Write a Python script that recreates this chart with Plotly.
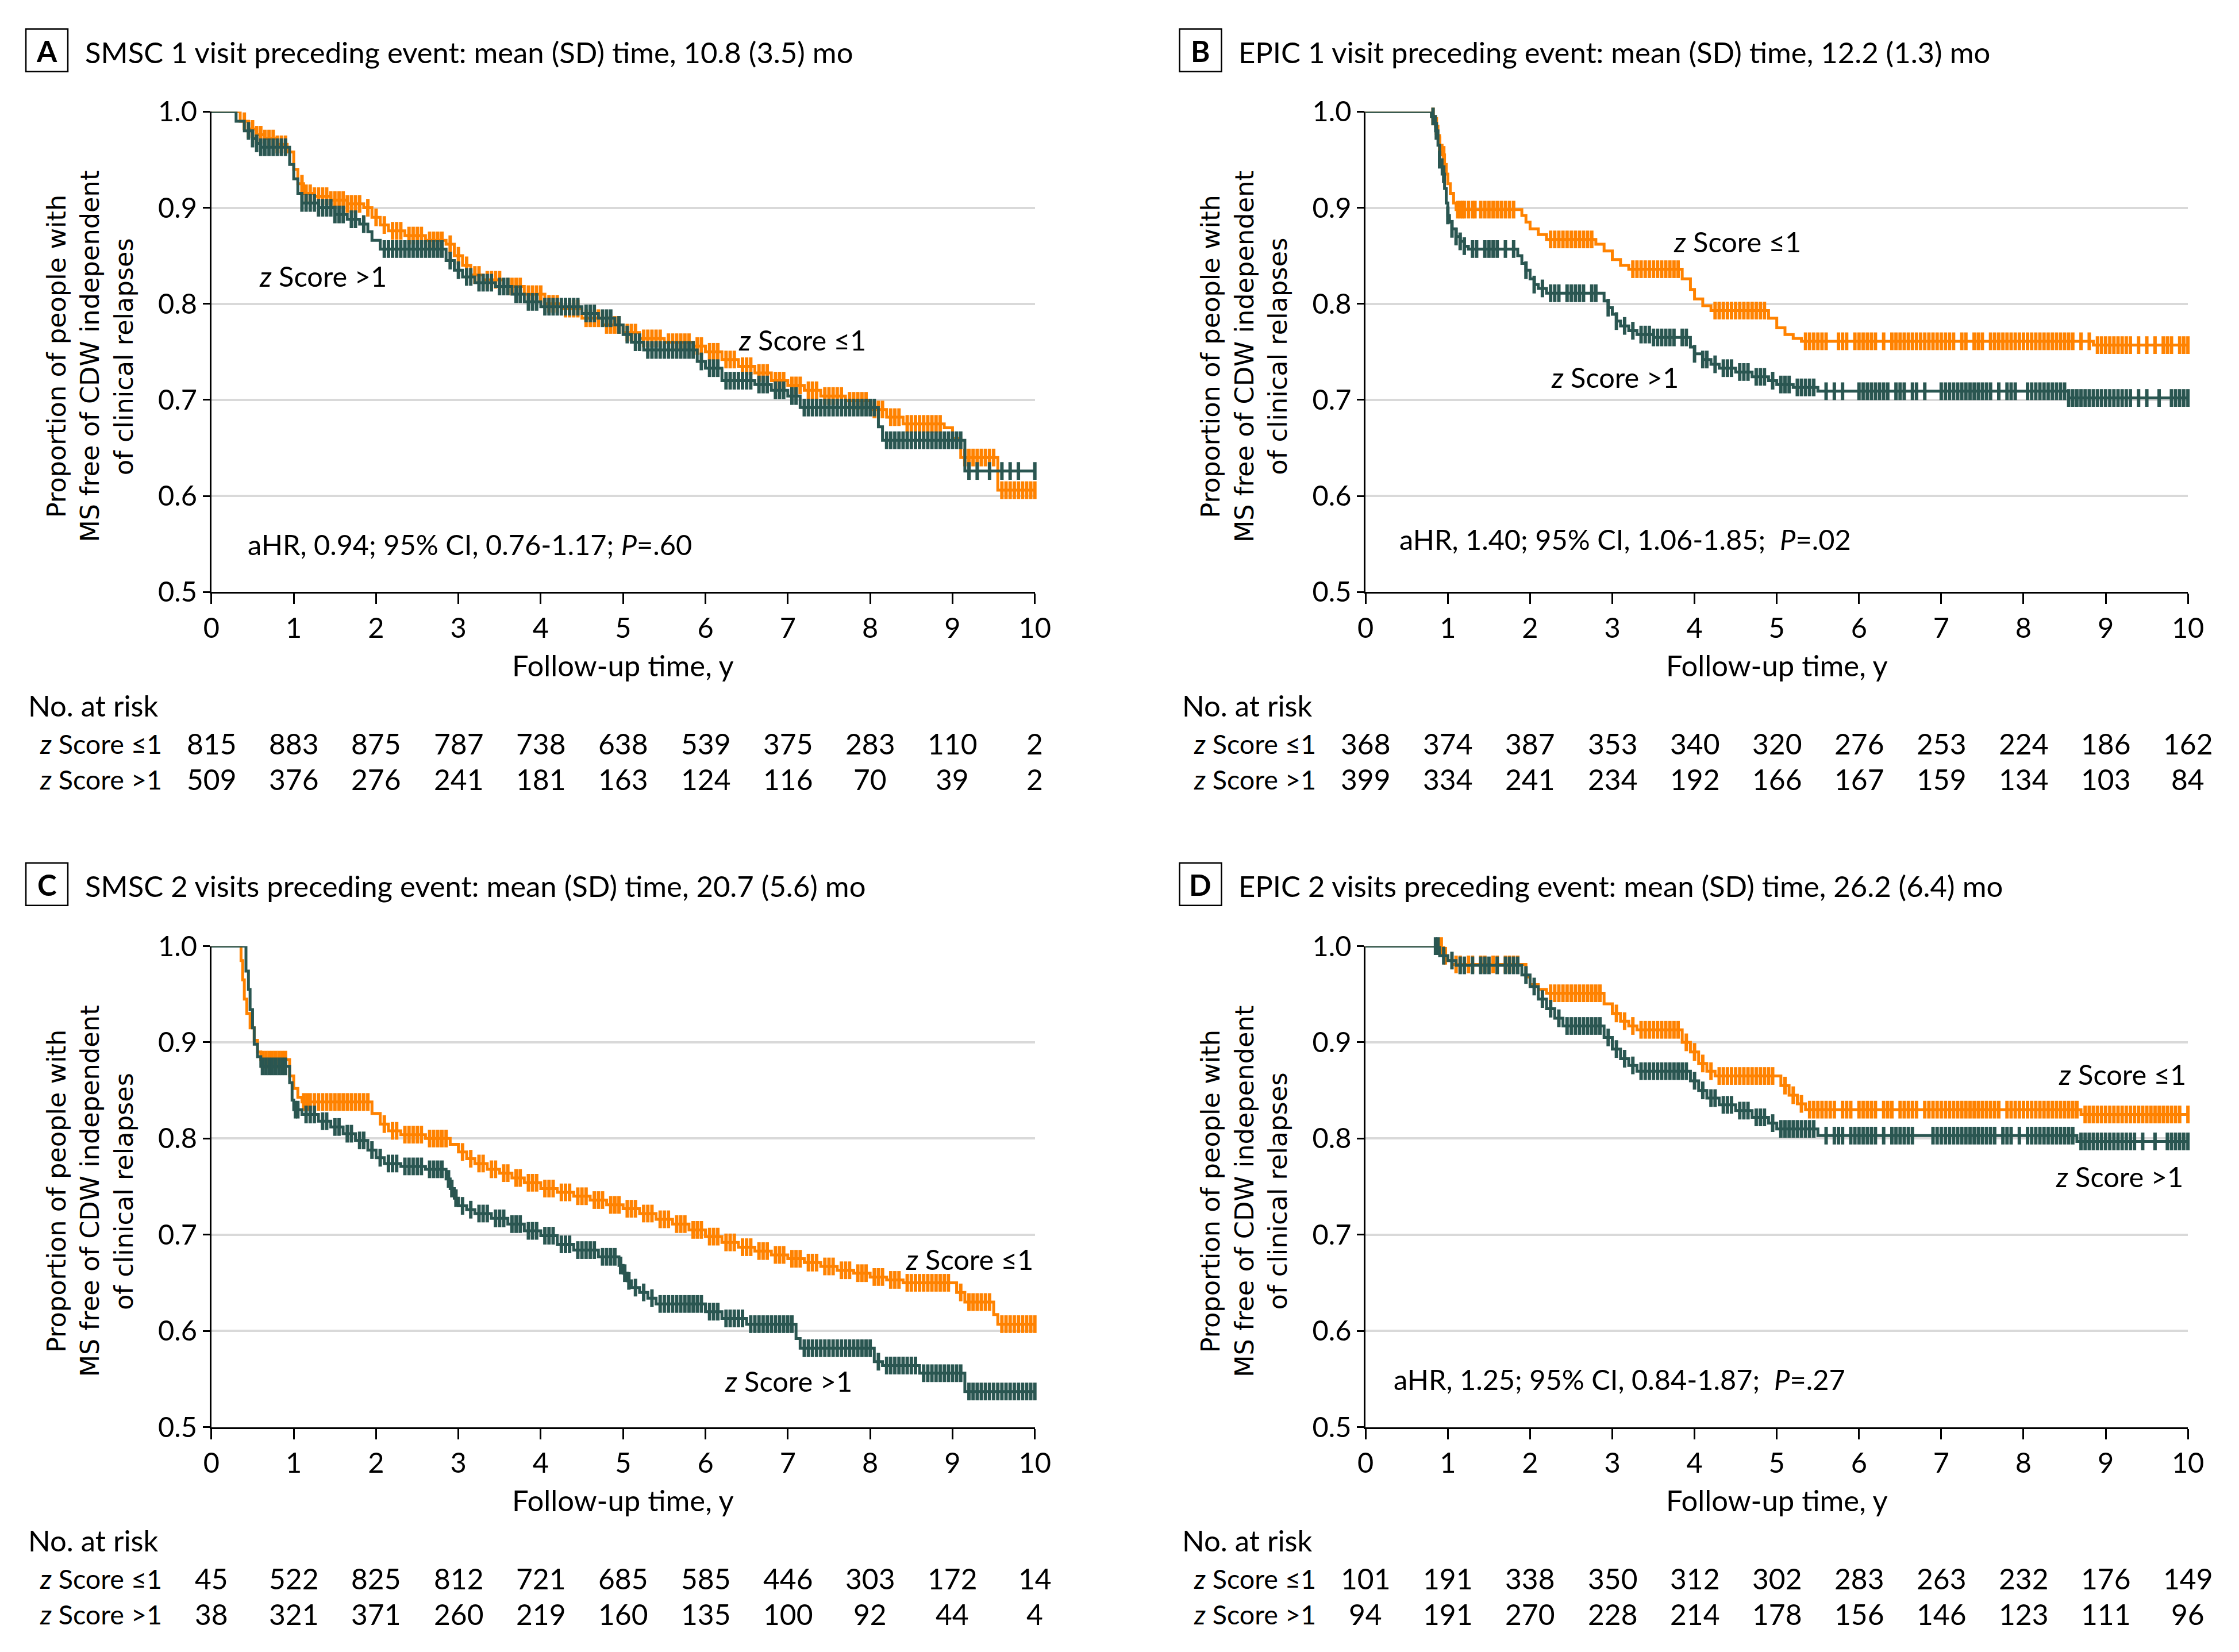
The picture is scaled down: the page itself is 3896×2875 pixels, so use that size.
import numpy as np
import plotly.graph_objects as go

W, H = 3896, 2875
ORANGE = "#FF8200"
TEAL = "#2A5651"
FONT = "Lato"

# ---------------- data ----------------
years = list(range(0, 11))

# Panel A: SMSC 1 visit
tA_low = [0.35,0.45,0.55,0.65,0.8,0.92,1.0,1.05,1.12,1.25,1.45,1.65,1.85,1.95,2.05,2.15,2.35,2.6,2.85,2.95,3.05,3.15,3.3,3.55,3.8,4.05,4.25,4.5,4.75,5.0,5.2,5.5,5.85,6.0,6.2,6.4,6.6,6.8,7.0,7.2,7.4,7.7,8.0,8.2,8.4,8.9,9.0,9.1,9.55]
sA_low = [0.99,0.982,0.976,0.972,0.966,0.958,0.94,0.925,0.915,0.912,0.908,0.904,0.9,0.89,0.882,0.876,0.871,0.866,0.862,0.85,0.84,0.83,0.825,0.818,0.81,0.8,0.795,0.785,0.778,0.77,0.764,0.76,0.756,0.75,0.742,0.735,0.728,0.72,0.715,0.71,0.704,0.699,0.69,0.682,0.675,0.671,0.66,0.64,0.606]
cA_low = [0.40,0.45,0.5,0.55,0.6,0.65,0.7,0.75,0.8,0.85,0.9,
          1.1,1.15,1.2,1.25,1.3,1.35,1.4,1.45,1.5,1.55,1.6,1.65,1.7,1.75,1.8,1.9,
          2.0,2.1,2.2,2.25,2.3,2.4,2.45,2.5,2.55,2.65,2.7,2.75,2.8,2.9,
          3.0,3.1,3.2,3.25,3.35,3.4,3.45,3.5,3.6,3.65,3.7,3.75,3.85,3.9,3.95,
          4.0,4.1,4.15,4.2,4.3,4.35,4.4,4.45,4.55,4.6,4.65,4.7,4.8,4.85,4.9,4.95,
          5.05,5.1,5.15,5.25,5.3,5.35,5.4,5.45,5.55,5.6,5.65,5.7,5.75,5.8,5.9,5.95,
          6.05,6.1,6.15,6.25,6.3,6.35,6.45,6.5,6.55,6.65,6.7,6.75,6.85,6.9,6.95,
          7.05,7.1,7.15,7.25,7.3,7.35,7.45,7.5,7.55,7.6,7.65,7.75,7.8,7.85,7.9,7.95,
          8.05,8.1,8.15,8.25,8.3,8.35,8.45,8.5,8.55,8.6,8.65,8.7,8.75,8.8,8.85,
          9.15,9.2,9.25,9.3,9.35,9.4,9.45,9.5,9.6,9.65,9.7,9.75,9.8,9.85,9.9,9.95,10.0]
tA_high = [0.3,0.4,0.5,0.55,0.6,0.95,1.0,1.05,1.1,1.3,1.5,1.65,1.8,1.9,1.95,2.05,2.85,2.95,3.05,3.2,3.45,3.65,3.8,4.0,4.5,4.7,4.9,5.0,5.1,5.25,5.9,6.0,6.2,6.6,6.8,7.0,7.15,8.1,8.15,9.15]
sA_high = [0.99,0.98,0.972,0.967,0.963,0.945,0.93,0.915,0.905,0.9,0.893,0.888,0.883,0.875,0.866,0.857,0.845,0.835,0.828,0.822,0.818,0.81,0.802,0.797,0.79,0.785,0.778,0.768,0.76,0.752,0.74,0.733,0.72,0.716,0.71,0.704,0.692,0.672,0.658,0.626]
cA_high = [0.45,0.5,0.55,0.6,0.65,0.7,0.75,0.8,0.85,0.9,
           1.1,1.15,1.2,1.25,1.3,1.35,1.4,1.45,1.5,1.55,1.6,1.7,1.75,1.85,
           2.1,2.15,2.2,2.25,2.3,2.35,2.4,2.45,2.5,2.55,2.6,2.65,2.7,2.75,2.8,
           2.9,3.0,3.1,3.15,3.25,3.3,3.35,3.4,3.5,3.55,3.6,3.7,3.75,
           3.85,3.9,3.95,4.05,4.1,4.15,4.2,4.25,4.3,4.35,4.4,4.45,4.55,4.6,4.65,4.75,4.8,4.85,4.95,
           5.05,5.15,5.2,5.3,5.35,5.4,5.45,5.5,5.55,5.6,5.65,5.7,5.75,5.8,5.85,
           5.95,6.05,6.1,6.15,6.25,6.3,6.35,6.4,6.45,6.5,6.55,6.65,6.7,6.75,6.85,6.9,6.95,7.05,7.1,
           7.2,7.25,7.3,7.35,7.4,7.45,7.5,7.55,7.6,7.65,7.7,7.75,7.8,7.85,7.9,7.95,8.0,8.05,
           8.2,8.25,8.3,8.35,8.4,8.45,8.5,8.55,8.6,8.65,8.7,8.75,8.8,8.85,8.9,8.95,9.0,9.05,9.1,
           9.2,9.3,9.45,9.6,9.7,9.8,10.0]
riskA_low = [815, 883, 875, 787, 738, 638, 539, 375, 283, 110, 2]
riskA_high = [509, 376, 276, 241, 181, 163, 124, 116, 70, 39, 2]

# Panel B: EPIC 1 visit
tB_low = [0.8,0.85,0.88,0.9,0.93,0.96,0.98,1.0,1.03,1.07,1.1,1.9,1.95,2.0,2.1,2.2,2.8,2.9,3.0,3.1,3.2,3.85,3.95,4.0,4.1,4.2,4.9,5.0,5.1,5.2,5.3,8.85]
sB_low = [0.995,0.985,0.975,0.965,0.955,0.945,0.935,0.925,0.915,0.905,0.898,0.892,0.885,0.878,0.872,0.867,0.862,0.855,0.846,0.84,0.836,0.826,0.815,0.805,0.798,0.793,0.785,0.775,0.768,0.764,0.761,0.757]
cB_low = [0.82,0.86,0.9,0.95,1.12,1.15,1.18,1.2,1.25,1.3,1.33,1.4,1.45,1.5,1.55,1.6,1.65,1.7,1.75,1.8,
          2.25,2.3,2.35,2.4,2.45,2.5,2.55,2.6,2.65,2.7,2.75,3.25,3.3,3.35,3.4,3.45,3.5,3.55,3.6,3.65,3.7,3.75,3.8,
          4.25,4.3,4.35,4.4,4.45,4.5,4.55,4.6,4.65,4.7,4.75,4.8,4.85,5.35,5.4,5.45,5.5,5.55,5.6,5.75,5.8,5.85,
          5.95,6.0,6.05,6.1,6.15,6.2,6.3,6.4,6.45,6.5,6.55,6.6,6.65,6.7,6.75,6.8,6.85,6.9,6.95,7.0,7.05,7.1,7.15,
          7.25,7.3,7.4,7.45,7.5,7.6,7.65,7.7,7.75,7.8,7.85,7.9,7.95,8.0,8.05,8.1,8.15,8.2,8.25,8.3,8.35,8.4,8.45,
          8.5,8.55,8.6,8.7,8.8,8.9,8.95,9.0,9.05,9.1,9.15,9.2,9.25,9.3,9.4,9.5,9.6,9.7,9.75,9.8,9.9,9.95,10.0]
tB_high = [0.8,0.85,0.88,0.9,0.93,0.96,0.98,1.0,1.02,1.05,1.1,1.15,1.2,1.25,1.85,1.9,1.95,2.0,2.05,2.1,2.2,2.9,2.95,3.0,3.05,3.1,3.2,3.3,3.5,3.95,4.0,4.1,4.2,4.3,4.5,4.7,4.9,5.0,5.2,5.5,8.55]
sB_high = [0.995,0.98,0.965,0.95,0.935,0.92,0.905,0.892,0.885,0.878,0.87,0.865,0.86,0.857,0.85,0.842,0.835,0.826,0.82,0.816,0.811,0.803,0.796,0.789,0.782,0.777,0.772,0.768,0.765,0.755,0.748,0.742,0.737,0.733,0.729,0.724,0.72,0.716,0.713,0.709,0.702]
cB_high = [0.82,0.86,0.9,0.95,1.0,1.05,1.1,1.15,1.2,
           1.3,1.35,1.45,1.5,1.55,1.6,1.7,1.8,
           1.95,2.05,2.15,2.25,2.3,2.35,2.45,2.5,2.55,2.6,2.65,2.75,2.8,
           2.95,3.05,3.15,3.25,3.35,3.4,3.45,3.5,3.55,3.6,3.65,3.7,3.75,3.85,3.9,
           4.0,4.1,4.15,4.25,4.35,4.4,4.45,4.55,4.6,4.65,4.75,4.8,4.85,4.95,5.05,5.1,5.15,5.25,5.3,5.35,5.4,5.45,
           5.6,5.7,5.8,6.0,6.05,6.1,6.15,6.2,6.25,6.3,6.35,6.45,6.5,6.55,6.65,6.7,6.8,
           7.0,7.05,7.1,7.15,7.2,7.25,7.3,7.35,7.4,7.45,7.5,7.55,7.6,7.7,7.8,7.85,7.9,
           8.05,8.1,8.15,8.2,8.25,8.3,8.35,8.4,8.45,8.5,8.55,
           8.6,8.65,8.7,8.75,8.8,8.85,8.9,8.95,9.0,9.05,9.1,9.15,9.2,9.25,9.3,9.4,9.5,9.65,9.8,9.85,9.9,9.95,10.0]
riskB_low = [368, 374, 387, 353, 340, 320, 276, 253, 224, 186, 162]
riskB_high = [399, 334, 241, 234, 192, 166, 167, 159, 134, 103, 84]

# Panel C: SMSC 2 visits
tC_low = [0.36,0.38,0.4,0.43,0.47,0.52,0.56,0.6,0.95,1.0,1.05,1.1,1.95,2.05,2.15,2.3,2.6,2.9,3.0,3.1,3.2,3.35,3.5,3.65,3.8,4.0,4.2,4.4,4.6,4.8,5.0,5.2,5.4,5.6,5.8,6.0,6.2,6.4,6.6,6.8,7.0,7.2,7.4,7.6,7.8,8.0,8.2,8.4,9.05,9.15,9.5,9.55]
sC_low = [0.985,0.965,0.945,0.93,0.915,0.902,0.89,0.882,0.865,0.852,0.843,0.838,0.826,0.815,0.808,0.804,0.8,0.794,0.786,0.779,0.774,0.768,0.764,0.759,0.754,0.748,0.744,0.74,0.736,0.731,0.727,0.722,0.716,0.711,0.705,0.698,0.692,0.687,0.683,0.679,0.675,0.671,0.667,0.663,0.66,0.656,0.653,0.65,0.64,0.63,0.617,0.607]
cC_low = [0.62,0.66,0.7,0.74,0.78,0.82,0.86,0.9,
          1.12,1.16,1.2,1.25,1.3,1.35,1.4,1.45,1.5,1.55,1.6,1.65,1.7,1.75,1.8,1.85,1.9,
          2.1,2.2,2.25,2.35,2.4,2.45,2.5,2.55,2.65,2.7,2.75,2.8,2.85,
          3.05,3.15,3.25,3.3,3.4,3.45,3.55,3.6,3.7,3.75,3.85,3.9,3.95,
          4.05,4.1,4.15,4.25,4.3,4.35,4.45,4.5,4.55,4.65,4.7,4.75,4.85,4.9,4.95,
          5.05,5.1,5.15,5.25,5.3,5.35,5.45,5.5,5.55,5.65,5.7,5.75,5.85,5.9,5.95,
          6.05,6.1,6.15,6.25,6.3,6.35,6.45,6.5,6.55,6.65,6.7,6.75,6.85,6.9,6.95,
          7.05,7.1,7.15,7.25,7.3,7.35,7.45,7.5,7.55,7.65,7.7,7.75,7.85,7.9,7.95,
          8.05,8.1,8.15,8.25,8.3,8.35,8.45,8.5,8.55,8.6,8.65,8.7,8.75,8.8,8.85,8.9,8.95,
          9.1,9.2,9.25,9.3,9.35,9.4,9.45,9.6,9.65,9.7,9.75,9.8,9.85,9.9,9.95,10.0]
tC_high = [0.42,0.45,0.47,0.5,0.52,0.56,0.6,0.95,0.98,1.0,1.1,1.3,1.45,1.6,1.75,1.9,2.0,2.1,2.3,2.6,2.85,2.9,2.95,3.0,3.1,3.2,3.4,3.6,3.8,4.0,4.2,4.4,4.7,4.95,5.0,5.05,5.1,5.2,5.3,5.4,6.0,6.2,6.5,7.1,7.15,8.05,8.15,8.6,9.15]
sC_high = [0.974,0.955,0.934,0.915,0.898,0.885,0.875,0.858,0.84,0.83,0.825,0.818,0.812,0.805,0.798,0.788,0.78,0.774,0.771,0.768,0.758,0.748,0.738,0.73,0.726,0.722,0.717,0.711,0.704,0.699,0.69,0.684,0.677,0.668,0.66,0.652,0.645,0.64,0.634,0.628,0.62,0.613,0.607,0.592,0.582,0.568,0.564,0.556,0.537]
cC_high = [0.62,0.66,0.7,0.74,0.78,0.82,0.86,0.9,
           1.02,1.05,1.15,1.2,1.25,1.35,1.4,1.5,1.55,1.65,1.7,1.8,1.85,
           1.95,2.05,2.15,2.2,2.25,2.35,2.4,2.45,2.5,2.55,2.65,2.7,2.75,2.8,
           2.88,2.92,2.97,3.05,3.15,3.25,3.3,3.35,3.45,3.5,3.55,3.65,3.7,3.75,3.85,3.9,3.95,
           4.05,4.1,4.15,4.25,4.3,4.35,4.45,4.5,4.55,4.6,4.65,4.75,4.8,4.85,4.9,
           4.97,5.02,5.07,5.15,5.25,5.35,5.45,5.5,5.55,5.6,5.65,5.7,5.75,5.8,5.85,5.9,5.95,
           6.05,6.1,6.15,6.25,6.3,6.35,6.4,6.45,6.55,6.6,6.65,6.7,6.75,6.8,6.85,6.9,6.95,7.0,7.05,
           7.2,7.25,7.3,7.35,7.4,7.45,7.5,7.55,7.6,7.65,7.7,7.75,7.8,7.85,7.9,7.95,8.0,
           8.1,8.2,8.25,8.3,8.35,8.4,8.45,8.5,8.55,8.65,8.7,8.75,8.8,8.85,8.9,8.95,9.0,9.05,9.1,
           9.2,9.25,9.3,9.35,9.4,9.45,9.5,9.55,9.6,9.65,9.7,9.75,9.8,9.85,9.9,9.95,10.0]
riskC_low = [45, 522, 825, 812, 721, 685, 585, 446, 303, 172, 14]
riskC_high = [38, 321, 371, 260, 219, 160, 135, 100, 92, 44, 4]

# Panel D: EPIC 2 visits
tD_low = [0.95,1.0,1.05,1.95,2.0,2.1,2.2,2.9,3.0,3.1,3.2,3.3,3.85,3.95,4.05,4.15,4.25,5.05,5.15,5.25,5.35,8.7]
sD_low = [0.99,0.985,0.981,0.968,0.96,0.955,0.951,0.94,0.93,0.922,0.917,0.913,0.9,0.89,0.878,0.87,0.865,0.855,0.845,0.836,0.83,0.825]
cD_low = [0.92,0.97,1.1,1.15,1.25,1.3,1.4,1.45,1.55,1.6,1.7,1.75,1.8,1.85,
          2.25,2.3,2.35,2.4,2.45,2.5,2.55,2.6,2.65,2.7,2.75,2.8,2.85,
          3.05,3.15,3.25,3.35,3.4,3.45,3.5,3.55,3.6,3.65,3.7,3.75,3.8,
          3.9,4.0,4.1,4.2,4.3,4.35,4.4,4.45,4.5,4.55,4.6,4.65,4.7,4.75,4.8,4.85,4.9,4.95,
          5.1,5.2,5.3,5.4,5.45,5.5,5.55,5.6,5.65,5.7,5.8,5.85,5.9,6.0,6.05,6.1,6.15,6.2,6.3,6.35,6.4,
          6.5,6.55,6.6,6.65,6.7,6.8,6.85,6.9,6.95,7.0,7.05,7.1,7.15,7.2,7.25,7.3,7.35,7.4,7.45,7.5,
          7.55,7.6,7.65,7.7,7.8,7.85,7.9,7.95,8.0,8.05,8.1,8.15,8.2,8.25,8.3,8.35,8.4,8.45,8.5,8.55,8.6,8.65,
          8.75,8.8,8.85,8.9,8.95,9.0,9.05,9.1,9.15,9.2,9.25,9.3,9.35,9.4,9.45,9.5,9.55,9.6,9.65,9.7,
          9.75,9.8,9.85,9.9,10.0]
tD_high = [0.9,1.0,1.1,1.9,2.0,2.1,2.2,2.3,2.4,2.9,3.0,3.1,3.2,3.3,3.95,4.05,4.15,4.3,4.5,4.7,4.9,5.0,5.5,8.65]
sD_high = [0.99,0.985,0.98,0.97,0.958,0.945,0.935,0.925,0.917,0.905,0.893,0.883,0.876,0.87,0.86,0.85,0.842,0.835,0.829,0.822,0.816,0.81,0.803,0.797]
cD_high = [0.85,0.88,0.95,1.05,1.15,1.2,1.3,1.4,1.45,1.5,1.6,1.7,1.75,1.8,1.85,
           1.95,2.05,2.15,2.25,2.35,2.45,2.5,2.55,2.6,2.65,2.7,2.75,2.8,2.85,
           2.95,3.05,3.15,3.25,3.35,3.4,3.45,3.5,3.55,3.6,3.65,3.7,3.75,3.8,3.85,3.9,
           4.0,4.1,4.2,4.25,4.35,4.4,4.45,4.55,4.6,4.65,4.75,4.8,4.85,4.95,5.05,5.1,5.15,5.2,5.25,5.3,5.35,5.4,5.45,
           5.6,5.7,5.75,5.8,5.9,5.95,6.0,6.05,6.1,6.15,6.2,6.3,6.4,6.45,6.5,6.55,6.6,6.65,
           6.9,6.95,7.0,7.05,7.1,7.15,7.2,7.25,7.3,7.35,7.4,7.45,7.5,7.55,7.6,7.65,7.75,7.8,7.85,7.95,
           8.05,8.1,8.15,8.2,8.25,8.3,8.35,8.4,8.45,8.5,8.55,8.6,
           8.7,8.75,8.8,8.85,8.9,8.95,9.0,9.05,9.1,9.15,9.2,9.25,9.3,9.35,9.45,9.6,9.75,9.8,9.85,9.9,9.95,10.0]
riskD_low = [101, 191, 338, 350, 312, 302, 283, 263, 232, 176, 149]
riskD_high = [94, 191, 270, 228, 214, 178, 156, 146, 123, 111, 96]

titles = ["SMSC 1 visit preceding event: mean (SD) time, 10.8 (3.5) mo",
          "EPIC 1 visit preceding event: mean (SD) time, 12.2 (1.3) mo",
          "SMSC 2 visits preceding event: mean (SD) time, 20.7 (5.6) mo",
          "EPIC 2 visits preceding event: mean (SD) time, 26.2 (6.4) mo"]
letters = ["A", "B", "C", "D"]
hr_texts = ["aHR, 0.94; 95% CI, 0.76-1.17; <i>P</i>=.60",
            "aHR, 1.40; 95% CI, 1.06-1.85;\u00a0 <i>P</i>=.02",
            "aHR, 1.49; 95% CI, 1.20-1.84;\u00a0 <i>P</i>&lt;.001",
            "aHR, 1.25; 95% CI, 0.84-1.87;\u00a0 <i>P</i>=.27"]

panels = [
    dict(t1=tA_low, s1=sA_low, c1=cA_low, t2=tA_high, s2=sA_high, c2=cA_high, r1=riskA_low, r2=riskA_high),
    dict(t1=tB_low, s1=sB_low, c1=cB_low, t2=tB_high, s2=sB_high, c2=cB_high, r1=riskB_low, r2=riskB_high),
    dict(t1=tC_low, s1=sC_low, c1=cC_low, t2=tC_high, s2=sC_high, c2=cC_high, r1=riskC_low, r2=riskC_high),
    dict(t1=tD_low, s1=sD_low, c1=cD_low, t2=tD_high, s2=sD_high, c2=cD_high, r1=riskD_low, r2=riskD_high),
]

# label positions (data coords): (x, y, anchor)
lab_low = [(6.39, 0.763, "left"), (3.73, 0.865, "left"), (8.42, 0.675, "left"), (8.41, 0.867, "left")]
lab_high = [(0.57, 0.829, "left"), (2.24, 0.724, "left"), (6.22, 0.548, "left"), (8.38, 0.761, "left")]
hr_pos = [(0.43, 0.550, "left"), (0.40, 0.555, "left"), (10.01, 0.947, "right"), (0.33, 0.550, "left")]

# ---------------- layout geometry (target pixels) ----------------
x_left = [368, 2378, 368, 2378]
x_right = [1802, 3810, 1802, 3810]
y_top = [194, 194, 1648, 1648]
y_bot = [1031, 1031, 2486, 2486]

# compensation for the page's observed placement of the figure
AX, SX = 21.9, 0.990
AY, SY = 38.5, 0.981
FS = 1.0 / 0.985


def px_x(p):
    return ((p - AX) / SX) / W


def px_y(p):
    return 1 - ((p - AY) / SY) / H


def fs(v):
    return round(v * FS, 1)


def step_value(times, surv, t):
    idx = np.searchsorted(np.array(times), t, side="right") - 1
    vals = [1.0] + list(surv)
    return vals[idx + 1]


fig = go.Figure()
annotations = []
shapes = []

for i, p in enumerate(panels):
    n = i + 1
    xa = "x" if n == 1 else f"x{n}"
    ya = "y" if n == 1 else f"y{n}"
    for key_t, key_s, key_c, col in [("t1", "s1", "c1", ORANGE), ("t2", "s2", "c2", TEAL)]:
        times, surv, cens = p[key_t], p[key_s], p[key_c]
        xs = [0.0] + list(times) + [10.0]
        ys = [1.0] + list(surv) + [surv[-1]]
        fig.add_trace(go.Scatter(x=xs, y=ys, mode="lines", line=dict(color=col, width=5, shape="hv"),
                                 xaxis=xa, yaxis=ya, showlegend=False, hoverinfo="skip"))
        cy = [step_value(times, surv, c) for c in cens]
        fig.add_trace(go.Scatter(x=cens, y=cy, mode="markers",
                                 marker=dict(symbol="line-ns", size=22, line=dict(color=col, width=6)),
                                 xaxis=xa, yaxis=ya, showlegend=False, hoverinfo="skip", cliponaxis=False))

    axis_common = dict(showline=True, linecolor="black", linewidth=3, ticks="outside", tickcolor="black",
                       tickwidth=3, zeroline=False,
                       tickfont=dict(family=FONT, size=fs(48), color="black"))
    fig.update_layout(**{
        ("xaxis" if n == 1 else f"xaxis{n}"): dict(
            axis_common, domain=[px_x(x_left[i]), px_x(x_right[i])], range=[0, 10],
            tickvals=years, ticklen=18, showgrid=False, anchor=ya, fixedrange=True),
        ("yaxis" if n == 1 else f"yaxis{n}"): dict(
            axis_common, domain=[px_y(y_bot[i]), px_y(y_top[i])], range=[0.5, 1.0],
            tickvals=[0.5, 0.6, 0.7, 0.8, 0.9, 1.0], tickformat=".1f", ticklen=12,
            showgrid=True, gridcolor="#d9d9d9", gridwidth=4, anchor=xa, fixedrange=True),
    })

    # panel letter box + title
    bx0 = 45 if i % 2 == 0 else 2054
    by0 = 50 if i < 2 else 1503
    shapes.append(dict(type="rect", xref="paper", yref="paper", x0=px_x(bx0), x1=px_x(bx0 + 73),
                       y0=px_y(by0 + 74), y1=px_y(by0), line=dict(color="black", width=2.5)))
    annotations.append(dict(text=f"<b>{letters[i]}</b>", xref="paper", yref="paper",
                            x=px_x(bx0 + 36.5), y=px_y(by0 + 38), xanchor="center", yanchor="middle",
                            showarrow=False, font=dict(family=FONT, size=fs(50), color="black")))
    annotations.append(dict(text=titles[i], xref="paper", yref="paper",
                            x=px_x(bx0 + 101), y=px_y(by0 + 40), xanchor="left", yanchor="middle",
                            showarrow=False, font=dict(family=FONT, size=fs(50), color="black")))

    # y-axis title (three lines)
    yc = (y_top[i] + y_bot[i]) / 2 + 8
    for k, line in enumerate(["Proportion of people with", "MS free of CDW independent", "of clinical relapses"]):
        annotations.append(dict(text=line, xref="paper", yref="paper", x=px_x(x_left[i] - 269 + 58.5 * k),
                                y=px_y(yc), textangle=-90, xanchor="center", yanchor="middle",
                                showarrow=False, font=dict(family="DejaVu Sans", size=fs(44), color="black")))

    # x-axis title
    annotations.append(dict(text="Follow-up time, y", xref="paper", yref="paper",
                            x=px_x((x_left[i] + x_right[i]) / 2), y=px_y(y_bot[i] + 127),
                            xanchor="center", yanchor="middle", showarrow=False,
                            font=dict(family=FONT, size=fs(50), color="black")))

    # curve labels and HR text
    for (lx, ly, anc), txt in [(lab_low[i], "<i>z</i> Score ≤1"), (lab_high[i], "<i>z</i> Score >1"),
                               (hr_pos[i], hr_texts[i])]:
        annotations.append(dict(text=txt, xref=xa, yref=ya, x=lx, y=ly, xanchor=anc, yanchor="middle",
                                showarrow=False, font=dict(family=FONT, size=fs(48), color="black")))

    # number at risk table
    base_x = 47 if i % 2 == 0 else 2057
    annotations.append(dict(text="No. at risk", xref="paper", yref="paper", x=px_x(base_x),
                            y=px_y(y_bot[i] + 197), xanchor="left", yanchor="middle", showarrow=False,
                            font=dict(family=FONT, size=fs(50), color="black")))
    for r, (lbl, vals) in enumerate([("<i>z</i> Score ≤1", p["r1"]), ("<i>z</i> Score >1", p["r2"])]):
        ry = px_y(y_bot[i] + 264 + 62 * r)
        annotations.append(dict(text=lbl, xref="paper", yref="paper", x=px_x(x_left[i] - 84), y=ry,
                                xanchor="right", yanchor="middle", showarrow=False,
                                font=dict(family=FONT, size=fs(46), color="black")))
        for yr, v in zip(years, vals):
            annotations.append(dict(text=str(v), xref=xa, yref="paper", x=yr, y=ry, xanchor="center",
                                    yanchor="middle", showarrow=False,
                                    font=dict(family=FONT, size=fs(49), color="black")))

fig.update_layout(width=W, height=H, margin=dict(l=0, r=0, t=0, b=0), paper_bgcolor="white",
                  plot_bgcolor="white", annotations=annotations, shapes=shapes, showlegend=False)

fig.write_html("out.html")
